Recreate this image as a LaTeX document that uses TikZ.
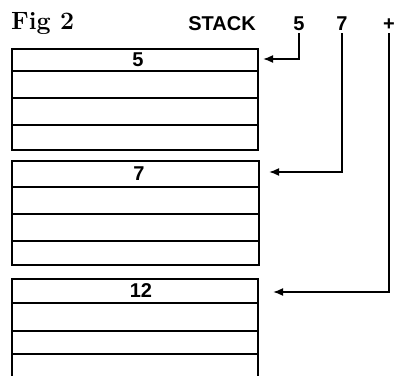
\documentclass[tikz,border=0pt]{standalone}
\usepackage{fontspec}
\setsansfont{Liberation Sans}
\usetikzlibrary{arrows.meta}

\tikzset{
  numtext/.style = {font=\sffamily\bfseries\fontsize{20}{20}\selectfont, inner sep=2pt},
  pointer/.style = {->, line width=1.7pt},
  block/.style = {line width=1.4pt}
}

\begin{document}
\begin{tikzpicture}[x = 1pt, y = 1pt, > = {Latex[length=10pt, width=8pt]}]

	\useasboundingbox (0, 0) rectangle (396, 375);

	% Heading
	
	\node [anchor = base west, font = \bfseries\fontsize{25}{25}\selectfont, inner sep = 0pt] (title) at (11, 345) {Fig 2};
	\node [numtext, anchor = base east] (stack) at (258, 344) {STACK};
	\node [numtext, anchor = base] (in5) at (299, 344) {5};
	\node [numtext, anchor = base] (in7) at (342, 344) {7};
	\node [numtext, anchor = base] (inplus) at (389, 344) {+};
	
	% Stack blocks
	
	\begin{scope}[block]
	
		\draw (12, 326) rectangle (258, 225);
		\foreach \y in {304, 277, 250}
			\draw (12, \y) -- (258, \y);
		
		\draw (12, 214) rectangle (259, 110);
		\foreach \y in {188, 161, 134}
			\draw (12, \y) -- (259, \y);
		
		\draw (12, -2) -- (12, 96) -- (258, 96) -- (258, -2);
		\foreach \y in {72, 44, 21}
			\draw (12, \y) -- (258, \y);
		
	\end{scope}
	
	\node [numtext] (top5) at (138, 315) {5};
	\node [numtext] (top7) at (139, 201) {7};
	\node [numtext] (top12) at (141, 84) {12};
	
	% Pointers
	
	\coordinate (tip5) at (263, 316);
	\coordinate (tip7) at (269, 203);
	\coordinate (tip12) at (273, 83);
	
	\draw [pointer] (in5.south) |- (tip5);
	\draw [pointer] (in7.south) |- (tip7);
	\draw [pointer] (inplus.south) |- (tip12);

\end{tikzpicture}
\end{document}
